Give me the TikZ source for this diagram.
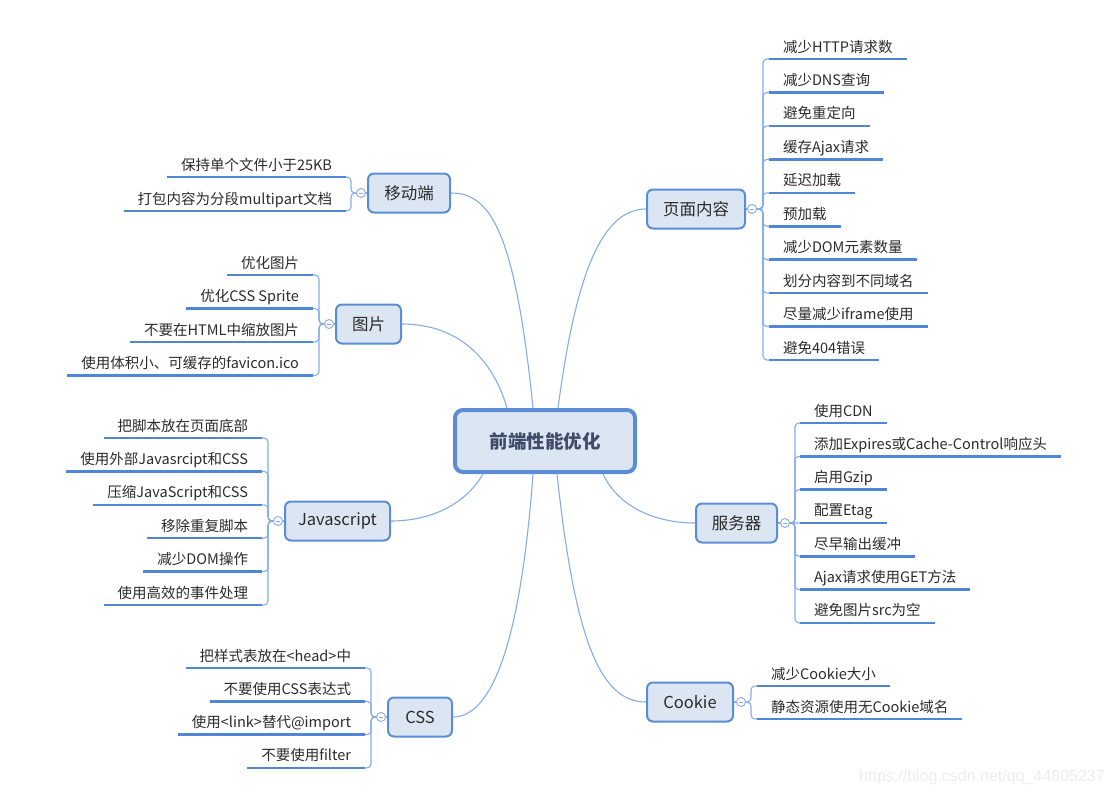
\documentclass[tikz,border=0pt]{standalone}
\usepackage{fontspec}
\setmainfont{Noto Sans CJK SC}
\newfontfamily\wmfont{Liberation Sans}
\definecolor{boxfill}{HTML}{DCE6F3}
\definecolor{boxline}{HTML}{5B8DD6}
\definecolor{connc}{HTML}{86ACE8}
\definecolor{ulc}{HTML}{4F86D6}
\definecolor{txt}{HTML}{2B2B2B}
\definecolor{ctxt}{HTML}{3E4C6A}
\definecolor{wmc}{HTML}{EDEDED}
\tikzset{
  branch/.style={draw=boxline, fill=boxfill, line width=2pt, rounded corners=6pt,
    minimum height=39pt, inner xsep=6pt, text=txt, font=\fontsize{16.5}{20}\selectfont},
  rootbox/.style={draw=boxline, fill=boxfill, line width=4pt, rounded corners=8pt,
    minimum width=180pt, minimum height=62pt, text=ctxt, font=\fontsize{18.5}{22}\selectfont\bfseries},
  leaf/.style={inner xsep=14pt, inner ysep=4pt, text height=11.5pt, text depth=3pt,
    outer sep=0pt, text=txt, font=\fontsize{14.5}{17}\selectfont},
  leafR/.style={leaf, anchor=south west},
  leafL/.style={leaf, anchor=south east},
  uline/.style={draw=ulc, line width=2.5pt},
  conn/.style={draw=connc, line width=1.1pt},
  trunk/.style={conn, rounded corners=4pt},
  circ/.style={circle, draw=connc, fill=white, line width=0.9pt, minimum size=9pt, inner sep=0pt},
  minus/.style={draw=connc, line width=0.8pt},
  wm/.style={text=wmc, font=\wmfont\fontsize{16}{19}\selectfont}
}
\begin{document}
\begin{tikzpicture}[x=1pt,y=-1pt]
\useasboundingbox (0,0) rectangle (1112,795);

% root
\node[rootbox] (root) at (545,441) {前端性能优化};

% branches
\node[branch, minimum width=98pt] (pm) at (696,209) {页面内容};
\node[branch, minimum width=81pt] (sv) at (736.5,523) {服务器};
\node[branch, minimum width=86pt] (ck) at (690,702) {Cookie};
\node[branch, minimum width=82pt] (mb) at (409,193) {移动端};
\node[branch, minimum width=65pt] (tp) at (368.5,324) {图片};
\node[branch, minimum width=105pt] (js) at (337.5,521) {Javascript};
\node[branch, minimum width=64pt] (cs) at (420,717) {CSS};

% root to branches
\draw[conn] ([xshift=-12pt]root.north) .. controls (515,230) and (490,193) .. (mb.east);
\draw[conn] ([xshift=-38pt]root.north) .. controls (490,350) and (450,324) .. (tp.east);
\draw[conn] ([xshift=13pt]root.north) .. controls (575,280) and (600,209) .. (pm.west);
\draw[conn] ([xshift=58pt]root.south) .. controls (620,510) and (660,523) .. (sv.west);
\draw[conn] ([xshift=-62pt]root.south) .. controls (465,505) and (430,521) .. (js.east);
\draw[conn] ([xshift=-12pt]root.south) .. controls (520,650) and (490,717) .. (cs.east);
\draw[conn] ([xshift=12pt]root.south) .. controls (575,640) and (600,702) .. (ck.west);

% collapse circles
\node[circ] (c1) at (752,209) {};
\node[circ] (c2) at (785,523) {};
\node[circ] (c3) at (741,702) {};
\node[circ] (c4) at (361,193) {};
\node[circ] (c5) at (329,324) {};
\node[circ] (c6) at (278,521) {};
\node[circ] (c7) at (381,717) {};
\draw[conn] (pm.east) -- (c1.west);
\draw[conn] (sv.east) -- (c2.west);
\draw[conn] (ck.east) -- (c3.west);
\draw[conn] (mb.west) -- (c4.east);
\draw[conn] (tp.west) -- (c5.east);
\draw[conn] (js.west) -- (c6.east);
\draw[conn] (cs.west) -- (c7.east);
\foreach \c in {c1,c2,c3,c4,c5,c6,c7}
  \draw[minus] ([xshift=-2.2pt]\c.center) -- ([xshift=2.2pt]\c.center);

% 页面内容 leaves
\foreach \t [count=\i] in {减少HTTP请求数,减少DNS查询,避免重定向,缓存Ajax请求,延迟加载,预加载,减少DOM元素数量,划分内容到不同域名,尽量减少iframe使用,避免404错误}{
  \node[leafR] (p\i) at (769,{59+33.45*(\i-1)}) {\t};
  \draw[uline] (p\i.south west) -- (p\i.south east);
  \draw[trunk] (c1.east) -- (763,209) |- (p\i.south west);
}

% 服务器 leaves
\foreach \t [count=\i] in {使用CDN,添加Expires或Cache-Control响应头,启用Gzip,配置Etag,尽早输出缓冲,Ajax请求使用GET方法,避免图片src为空}{
  \node[leafR] (s\i) at (800,{423+33.33*(\i-1)}) {\t};
  \draw[uline] (s\i.south west) -- (s\i.south east);
}
\foreach \i in {1,2,3,5,6,7}
  \draw[trunk] (c2.east) -- (795,523) |- (s\i.south west);
\draw[conn] (c2.east) -- (s4.south west);

% Cookie leaves
\foreach \t [count=\i] in {减少Cookie大小,静态资源使用无Cookie域名}{
  \node[leafR] (k\i) at (757,{686+33*(\i-1)}) {\t};
  \draw[uline] (k\i.south west) -- (k\i.south east);
  \draw[trunk] (c3.east) -- (751,702) |- (k\i.south west);
}

% 移动端 leaves
\foreach \t [count=\i] in {保持单个文件小于25KB,打包内容为分段multipart文档}{
  \node[leafL] (m\i) at (346,{177+34*(\i-1)}) {\t};
  \draw[uline] (m\i.south west) -- (m\i.south east);
  \draw[trunk] (c4.west) -- (351,193) |- (m\i.south east);
}

% 图片 leaves
\foreach \t [count=\i] in {优化图片,优化CSS Sprite,不要在HTML中缩放图片,使用体积小、可缓存的favicon.ico}{
  \node[leafL] (t\i) at (313,{275+33.5*(\i-1)}) {\t};
  \draw[uline] (t\i.south west) -- (t\i.south east);
  \draw[trunk] (c5.west) -- (319,324) |- (t\i.south east);
}

% Javascript leaves
\foreach \t [count=\i] in {把脚本放在页面底部,使用外部Javasrcipt和CSS,压缩JavaScript和CSS,移除重复脚本,减少DOM操作,使用高效的事件处理}{
  \node[leafL] (j\i) at (262,{438+33.4*(\i-1)}) {\t};
  \draw[uline] (j\i.south west) -- (j\i.south east);
  \draw[trunk] (c6.west) -- (268,521) |- (j\i.south east);
}

% CSS leaves
\foreach \t [count=\i] in {把样式表放在<head>中,不要使用CSS表达式,使用<link>替代@import,不要使用filter}{
  \node[leafL] (y\i) at (365,{668+33.3*(\i-1)}) {\t};
  \draw[uline] (y\i.south west) -- (y\i.south east);
  \draw[trunk] (c7.west) -- (371,717) |- (y\i.south east);
}

% watermark
\node[wm] (wm) at (982,777) {https://blog.csdn.net/qq\_44805237};
\end{tikzpicture}
\end{document}
